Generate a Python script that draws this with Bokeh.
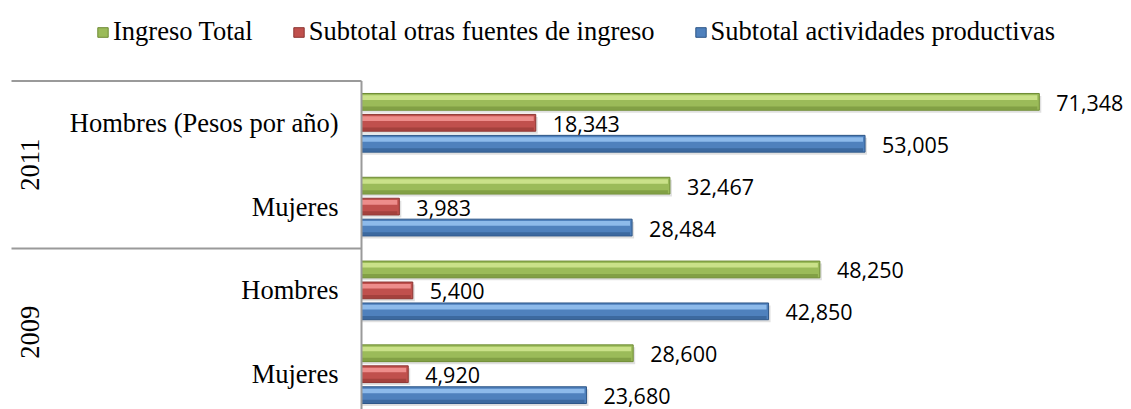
import math
from bokeh.plotting import figure
from bokeh.models import Range1d, Legend, LegendItem, ColumnDataSource
from bokeh.core.properties import value
from bokeh.embed import file_html
from bokeh.resources import INLINE

# ---------------- data ----------------
categories = ["Hombres (Pesos por año)", "Mujeres", "Hombres", "Mujeres"]
category_year = ["2011", "2011", "2009", "2009"]
years = ["2011", "2009"]
series_names = ["Ingreso Total", "Subtotal otras fuentes de ingreso", "Subtotal actividades productivas"]
ingreso_total = [71348, 32467, 48250, 28600]
otras_fuentes = [18343, 3983, 5400, 4920]
actividades_productivas = [53005, 28484, 42850, 23680]

# ---------------- geometry / style ----------------
W, H = 1131, 409
X_MAX = 80000
AXIS_PX = 361            # pixel position of value 0 from figure left
u = X_MAX / 760.0        # data units per pixel
x_start = -AXIS_PX * u
x_end = (W - AXIS_PX) * u
PITCH = 83.8             # pixels per category
TOP_CENTER_PX = 122.3    # first category center from figure top
n = len(categories)
y_top = (n - 1) + TOP_CENTER_PX / PITCH
y_bottom = (n - 1) - (H - TOP_CENTER_PX) / PITCH
cat_y = [n - 1 - i for i in range(n)]

BAR_H = 0.2
dodges = [0.25, 0.0, -0.25]
base_colors = ["#9BBB59", "#C0504D", "#4F81BD"]
light_colors = ["#CFE58E", "#F29492", "#93C0EE"]
dark_colors = ["#6E8B34", "#8C3532", "#2E5687"]
values_list = [ingreso_total, otras_fuentes, actividades_productivas]

SERIF = "Liberation Serif"
SANS = "Open Sans"

p = figure(width=W, height=H, x_range=Range1d(x_start, x_end), y_range=Range1d(y_bottom, y_top),
           output_backend="svg", toolbar_location=None,
           x_axis_location=None, y_axis_location=None, min_border=0)
p.outline_line_color = None
p.grid.visible = False
p.background_fill_color = "white"

legend_renderers = []
for vals, d, base, light, dark in zip(values_list, dodges, base_colors, light_colors, dark_colors):
    ys = [c + d for c in cat_y]
    src = ColumnDataSource(dict(y=ys, v=vals, lbl=[f"{x:,}" for x in vals],
                                ys_sh=[y - 2.5 / PITCH for y in ys],
                                v_sh=[x + 2 * u for x in vals],
                                ys_hi=[y + 0.05 for y in ys],
                                v_hi=[x - 2 * u for x in vals],
                                ys_lo=[y - 0.075 for y in ys]))
    # soft shadow
    p.hbar(y="ys_sh", left=0, right="v_sh", height=BAR_H, source=src,
           fill_color="#000000", fill_alpha=0.12, line_color=None)
    # main bar
    r = p.hbar(y="y", left=0, right="v", height=BAR_H, source=src,
               fill_color=base, line_color=dark, line_width=1)
    legend_renderers.append(r)
    # top highlight
    p.hbar(y="ys_hi", left=0, right="v_hi", height=0.055, source=src,
           fill_color=light, fill_alpha=0.9, line_color=None)
    # lower dark band
    p.hbar(y="ys_lo", left=0, right="v_hi", height=0.04, source=src,
           fill_color=dark, fill_alpha=0.55, line_color=None)
    # value labels
    p.text(x="v", y="y", text="lbl", source=src, x_offset=17, y_offset=1,
           text_align="left", text_baseline="middle",
           text_font=value(SANS), text_font_size="21.5px", text_color="#000000")

# axis line and group separators
sep_y = [cat_y[0] + 0.5] + [cat_y[i] + 0.5 for i in range(1, n) if category_year[i] != category_year[i - 1]]
p.segment(x0=[x_start + 11 * u] * len(sep_y), y0=sep_y, x1=[0] * len(sep_y), y1=sep_y,
          line_color="#9A9A9A", line_width=2)
p.segment(x0=[0], y0=[cat_y[0] + 0.5], x1=[0], y1=[y_bottom - 1],
          line_color="#9A9A9A", line_width=2)

# category labels
p.text(x=[0] * n, y=cat_y, text=categories, x_offset=-23, y_offset=0,
       text_align="right", text_baseline="middle",
       text_font=value(SERIF), text_font_size="26.5px", text_color="#000000")

# year labels (vertical)
year_y = []
for yr in years:
    ys = [cat_y[i] for i in range(n) if category_year[i] == yr]
    year_y.append(sum(ys) / len(ys))
p.text(x=[-(AXIS_PX - 29) * u] * len(years), y=year_y, text=years, angle=math.pi / 2,
       text_align="center", text_baseline="middle",
       text_font=value(SERIF), text_font_size="26.5px", text_color="#000000")

legend = Legend(items=[LegendItem(label=nm, renderers=[r]) for nm, r in zip(series_names, legend_renderers)],
                location=(96, H - 47), orientation="horizontal",
                glyph_width=13, glyph_height=12, label_standoff=4, spacing=39,
                padding=0, margin=0, border_line_color=None, background_fill_alpha=0,
                label_text_font=SERIF, label_text_font_size="26.5px", label_text_color="#000000")
p.add_layout(legend)

open("out.html", "w").write(file_html(p, INLINE))
